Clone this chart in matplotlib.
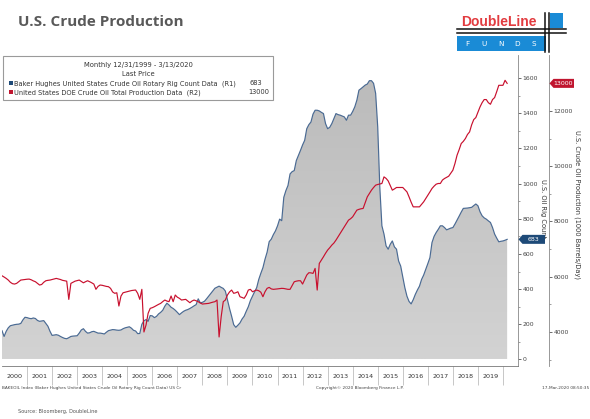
import numpy as np
import matplotlib
matplotlib.use("Agg")
import matplotlib.pyplot as plt
from matplotlib.colors import LinearSegmentedColormap
from matplotlib.patches import Rectangle, Polygon
from matplotlib import font_manager as fm

# ---------------- data (monthly, Jan 2000 - Mar 2020) ----------------
rig_count = [
    164, 131, 160, 180, 192, 195, 198, 200, 201, 205, 225, 240,   # 2000
    238, 234, 232, 236, 233, 222, 217, 219, 221, 205, 189, 160,   # 2001
    137, 139, 141, 138, 131, 125, 120, 118, 124, 131, 133, 134,   # 2002
    135, 150, 168, 175, 160, 150, 152, 158, 160, 155, 150, 150,   # 2003
    148, 145, 155, 164, 167, 170, 169, 167, 166, 168, 175, 180,   # 2004
    183, 186, 178, 166, 162, 147, 148, 200, 220, 227, 217, 250,   # 2005
    248, 238, 245, 259, 268, 280, 303, 320, 310, 297, 290, 280,   # 2006
    268, 255, 265, 274, 280, 284, 290, 297, 305, 312, 345, 322,   # 2007
    325, 331, 345, 360, 375, 389, 405, 411, 417, 410, 404, 389,   # 2008
    340, 290, 246, 198, 183, 195, 208, 230, 246, 274, 300, 335,   # 2009
    360, 385, 408, 455, 490, 522, 570, 610, 670, 684, 710, 731,   # 2010
    760, 798, 789, 922, 960, 989, 1055, 1068, 1074, 1131, 1160, 1189,  # 2011
    1220, 1246, 1312, 1335, 1350, 1395, 1417, 1417, 1413, 1405, 1398, 1341,  # 2012
    1312, 1320, 1341, 1370, 1398, 1392, 1389, 1384, 1379, 1360, 1389, 1389,  # 2013
    1410, 1436, 1474, 1531, 1540, 1550, 1560, 1566, 1585, 1585, 1570, 1513,  # 2014
    1322, 979, 760, 713, 646, 627, 655, 674, 640, 627, 560, 531,  # 2015
    470, 408, 360, 330, 316, 340, 370, 395, 417, 455, 480, 512,   # 2016
    545, 579, 665, 700, 722, 740, 760, 760, 750, 737, 742, 747,   # 2017
    750, 770, 792, 815, 838, 859, 860, 861, 863, 865, 875, 884,   # 2018
    874, 840, 817, 805, 798, 788, 779, 750, 713, 690, 669, 672,   # 2019
    674, 678, 683,                                                # 2020
]

production = [
    6035, 5990, 5940, 5880, 5800, 5750, 5735, 5760, 5820, 5880, 5890, 5900,   # 2000
    5910, 5915, 5890, 5850, 5820, 5760, 5700, 5720, 5800, 5855, 5870, 5880,   # 2001
    5900, 5920, 5940, 5920, 5900, 5870, 5855, 5840, 5180, 5760, 5800, 5840,   # 2002
    5860, 5880, 5830, 5780, 5820, 5855, 5820, 5780, 5735, 5545, 5650, 5700,   # 2003
    5690, 5670, 5650, 5640, 5580, 5450, 5400, 5420, 4940, 5300, 5420, 5440,   # 2004
    5460, 5480, 5500, 5510, 5520, 5400, 5182, 5544, 4000, 4253, 4676, 4856,   # 2005
    4880, 4916, 4960, 5000, 5036, 5100, 5157, 5120, 5097, 5302, 5097, 5338,   # 2006
    5260, 5218, 5157, 5170, 5182, 5120, 5060, 5120, 5157, 5130, 5097, 5050,   # 2007
    5012, 5020, 5030, 5036, 5060, 5080, 5097, 5157, 3820, 4553, 5097, 5157,   # 2008
    5338, 5450, 5518, 5400, 5420, 5457, 5276, 5250, 5218, 5338, 5518, 5544,   # 2009
    5457, 5490, 5518, 5494, 5440, 5276, 5457, 5580, 5614, 5560, 5544, 5550,   # 2010
    5560, 5570, 5580, 5575, 5560, 5544, 5544, 5680, 5818, 5840, 5855, 5855,   # 2011
    5735, 5900, 6061, 6145, 6140, 6121, 6302, 5518, 6482, 6600, 6723, 6850,   # 2012
    6965, 7050, 7145, 7220, 7326, 7450, 7568, 7690, 7809, 7930, 8049, 8100,   # 2013
    8170, 8290, 8411, 8440, 8460, 8472, 8680, 8892, 9010, 9134, 9230, 9315,   # 2014
    9340, 9360, 9376, 9615, 9560, 9470, 9300, 9134, 9180, 9231, 9231, 9231,   # 2015
    9231, 9150, 9072, 8892, 8700, 8530, 8530, 8530, 8530, 8620, 8711, 8830,   # 2016
    8953, 9070, 9195, 9280, 9351, 9376, 9376, 9500, 9556, 9600, 9640, 9750,   # 2017
    9857, 10100, 10399, 10600, 10822, 10900, 11003, 11150, 11242, 11500, 11690, 11762,  # 2018
    11950, 12147, 12300, 12414, 12414, 12300, 12244, 12414, 12486, 12700, 12930, 12930,  # 2019
    12930, 13111, 13000,                                                       # 2020
]

year_labels = [str(y) for y in range(2000, 2020)]
r1_ticks = [0, 200, 400, 600, 800, 1000, 1200, 1400, 1600]
r2_ticks = [4000, 6000, 8000, 10000, 12000]

n = len(rig_count)
x = 2000 + np.arange(n) / 12.0

# ---------------- figure ----------------
W, H = 590, 419
fig = plt.figure(figsize=(W / 100, H / 100), dpi=100)
fig.patch.set_facecolor("white")
plt.rcParams["font.family"] = ["DejaVu Sans"]

def fx(px):
    return px / W

def fy(py):
    return 1 - py / H

available = {f.name for f in fm.fontManager.ttflist}

BLUE = "#4a6a93"
RED = "#c8102e"
TICKC = "#444444"

ax = fig.add_axes([fx(2), fy(366), (518 - 2) / W, (366 - 55) / H])
ax2 = ax.twinx()
ax.set_zorder(1)
ax2.set_zorder(2)
ax.patch.set_visible(False)
ax2.patch.set_visible(False)

# rig count: gradient filled area
fill = ax.fill_between(x, rig_count, 0, color="none", lw=0)
grad = np.linspace(0, 1, 256).reshape(-1, 1)
cmap = LinearSegmentedColormap.from_list("g", ["#d3d3d3", "#b9b9b9"])
im = ax.imshow(grad, extent=[x[0], x[-1], 0, 1731], origin="lower", aspect="auto",
               cmap=cmap, zorder=1, interpolation="bilinear")
im.set_clip_path(fill.get_paths()[0], transform=ax.transData)
ax.plot(x, rig_count, color=BLUE, lw=0.85, zorder=3)

ax2.plot(x, production, color=RED, lw=0.85, zorder=3)

ax.set_xlim(2000.0, 2020.6)
ax.set_ylim(-37, 1731)
ax2.set_ylim(2769, 14027)

# spines
for s in ["top", "left"]:
    ax.spines[s].set_visible(False)
ax.spines["right"].set_color("#888888")
ax.spines["right"].set_linewidth(0.6)
ax.spines["bottom"].set_color("#777777")
ax.spines["bottom"].set_linewidth(0.6)
for s in ["top", "left", "bottom"]:
    ax2.spines[s].set_visible(False)
ax2.spines["right"].set_position(("outward", 22.3))
ax2.spines["right"].set_color("#888888")
ax2.spines["right"].set_linewidth(0.6)

# y axes ticks
ax.yaxis.tick_right()
ax.set_yticks(r1_ticks)
ax.set_yticks(np.arange(100, 1700, 200), minor=True)
ax.tick_params(axis="y", which="major", length=2.2, width=0.6, color="#555555",
               labelsize=4.4, labelcolor=TICKC, pad=1.2)
ax.tick_params(axis="y", which="minor", length=1.5, width=0.5, color="#777777")

ax2.set_yticks(r2_ticks)
ax2.set_yticks([3000, 5000, 7000, 9000, 11000, 13000], minor=True)
ax2.tick_params(axis="y", which="major", length=2.2, width=0.6, color="#555555",
                labelsize=4.4, labelcolor=TICKC, pad=1.2)
ax2.tick_params(axis="y", which="minor", length=1.5, width=0.5, color="#777777")

# x axis: separators at year boundaries, labels centred in years
ax.set_xticks(np.arange(2001, 2021))
ax.set_xticklabels([])
ax.set_xticks(np.arange(2000, 2020) + 0.5, minor=True)
ax.set_xticklabels(year_labels, minor=True)
ax.tick_params(axis="x", which="major", length=13.5, width=0.5, color="#b0b0b0", direction="out")
ax.tick_params(axis="x", which="minor", length=0, labelsize=4.6, labelcolor="#333333", pad=5.5)

# axis titles
fig.text(fx(543), fy(209), "U.S. Oil Rig Count", rotation=270, ha="center", va="center",
         fontsize=4.8, color="#333333")
fig.text(fx(577), fy(204), "U.S. Crude Oil Production (1000 Barrels/Day)", rotation=270,
         ha="center", va="center", fontsize=4.8, color="#333333")

# last-value tags
fig.canvas.draw()
def tag(axis, val, x0, x1, color, label, xtext):
    py = axis.transData.transform((2010, val))[1]  # pixels from bottom
    yc = H - py
    pts = [(x0, yc), (x0 + 4, yc - 4.5), (x1, yc - 4.5), (x1, yc + 4.5), (x0 + 4, yc + 4.5)]
    fig.add_artist(Polygon([(fx(a), fy(b)) for a, b in pts], closed=True,
                           transform=fig.transFigure, facecolor=color, edgecolor="none", zorder=10))
    fig.text(fx(xtext), fy(yc), label, ha="center", va="center", fontsize=4.5,
             color="white", zorder=11)

tag(ax, rig_count[-1], 518.5, 545, "#1e4a78", str(rig_count[-1]), 533)
tag(ax2, production[-1], 549.5, 574, "#c0152f", str(production[-1]), 563)

# ---------------- legend box ----------------
fig.add_artist(Rectangle((fx(4), fy(101)), (273 - 3) / W, (101 - 56) / H, transform=fig.transFigure,
                         facecolor="#dddddd", edgecolor="none", zorder=9))
fig.add_artist(Rectangle((fx(3), fy(100)), (273 - 3) / W, (100 - 56) / H, transform=fig.transFigure,
                         facecolor="white", edgecolor="#9a9a9a", lw=0.8, zorder=9.5))
fig.text(fx(138), fy(65.5), "Monthly 12/31/1999 - 3/13/2020", ha="center", va="center",
         fontsize=4.9, color="#333333", zorder=12)
fig.text(fx(138), fy(74.3), "Last Price", ha="center", va="center", fontsize=4.9,
         color="#333333", zorder=12)
fig.add_artist(Rectangle((fx(8.5), fy(85.5)), 4.5 / W, 4.5 / H, transform=fig.transFigure,
                         facecolor="#1e4a78", edgecolor="none", zorder=12))
fig.add_artist(Rectangle((fx(8.5), fy(94.5)), 4.5 / W, 4.5 / H, transform=fig.transFigure,
                         facecolor="#c0152f", edgecolor="none", zorder=12))
fig.text(fx(14.5), fy(83.3), "Baker Hughes United States Crude Oil Rotary Rig Count Data  (R1)",
         ha="left", va="center", fontsize=4.75, color="#333333", zorder=12)
fig.text(fx(262), fy(83.3), str(rig_count[-1]), ha="right", va="center", fontsize=4.75,
         color="#333333", zorder=12)
fig.text(fx(14.5), fy(92.3), "United States DOE Crude Oil Total Production Data  (R2)",
         ha="left", va="center", fontsize=4.75, color="#333333", zorder=12)
fig.text(fx(269), fy(92.3), str(production[-1]), ha="right", va="center", fontsize=4.75,
         color="#333333", zorder=12)

# ---------------- title & logo ----------------
title_font = "Open Sans" if "Open Sans" in available else "DejaVu Sans"
fig.text(fx(18), fy(22), "U.S. Crude Production", ha="left", va="center", fontsize=11,
         fontweight="bold", color="#595959", family=title_font)

logo_font = "Liberation Sans Narrow" if "Liberation Sans Narrow" in available else "Liberation Sans"
logo_size = 12 if logo_font == "Liberation Sans Narrow" else 10
fig.text(fx(461), fy(25.5), "DoubleLine", ha="left", va="baseline", fontsize=logo_size,
         fontweight="bold", color="#e23b3f", family=logo_font)
for yy in (29.5, 33.5):
    fig.add_artist(plt.Line2D([fx(457), fx(566)], [fy(yy), fy(yy)], color="#111111", lw=1.1,
                              transform=fig.transFigure, zorder=12))
fig.add_artist(Rectangle((fx(457), fy(51)), (546 - 457) / W, (51 - 36) / H, transform=fig.transFigure,
                         facecolor="#1a8bd6", edgecolor="none", zorder=11))
fig.add_artist(Rectangle((fx(550), fy(28)), (563 - 550) / W, (28 - 13.5) / H, transform=fig.transFigure,
                         facecolor="#1a8bd6", edgecolor="none", zorder=11))
for xx in (544.5, 548.5):
    fig.add_artist(plt.Line2D([fx(xx), fx(xx)], [fy(13.5), fy(52)], color="#111111", lw=1.1,
                              transform=fig.transFigure, zorder=12))
for i, ch in enumerate("FUNDS"):
    fig.text(fx(467 + i * 16.8), fy(43.5), ch, ha="center", va="center", fontsize=5.2,
             color="white", family="DejaVu Sans", zorder=13)

# ---------------- footer ----------------
fig.text(fx(2), fy(388), "BAKEOIL Index (Baker Hughes United States Crude Oil Rotary Rig Count Data) US Cr",
         ha="left", va="center", fontsize=3.1, color="#444444")
fig.text(fx(360), fy(388), "Copyright\u00a9 2020 Bloomberg Finance L.P.", ha="center", va="center",
         fontsize=3.1, color="#444444")
fig.text(fx(589), fy(388), "17-Mar-2020 08:50:35", ha="right", va="center", fontsize=3.1,
         color="#444444")
fig.text(fx(18), fy(411), "Source: Bloomberg, DoubleLine", ha="left", va="center", fontsize=3.6,
         color="#555555")

fig.savefig("out.png", dpi=100, facecolor="white")
